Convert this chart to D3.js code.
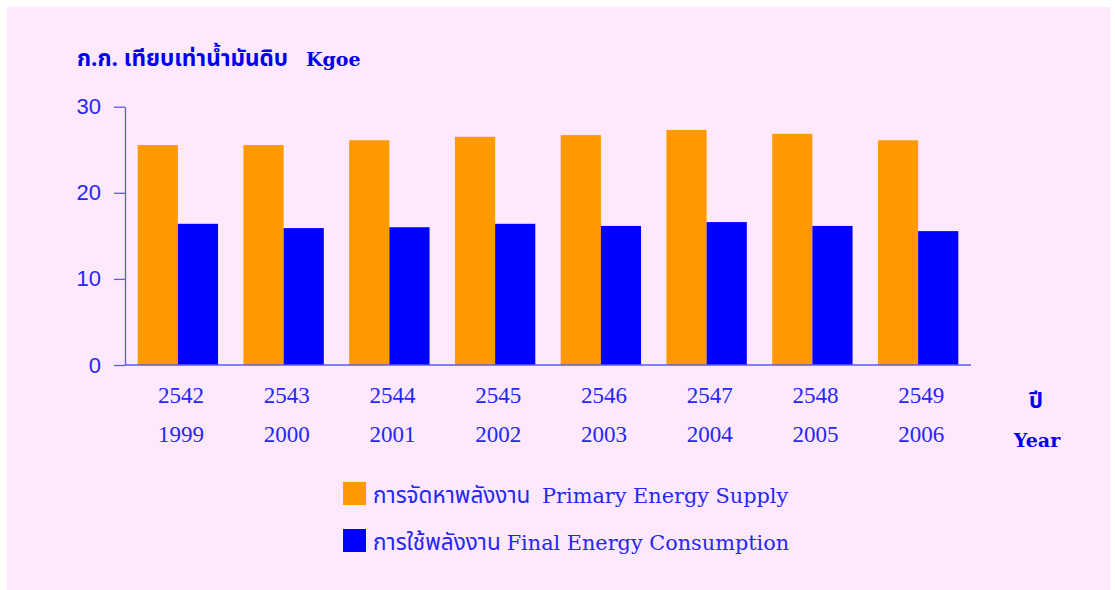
<!DOCTYPE html>
<html>
<head>
<meta charset="utf-8">
<script src="https://cdn.jsdelivr.net/npm/d3@7"></script>
<style>
  html, body { margin: 0; padding: 0; background: #ffffff; }
  svg { display: block; }
  text { white-space: pre; }
</style>
</head>
<body>
<svg id="chart" width="1115" height="590"></svg>
<script>
// data
var thaiYears = ['2542', '2543', '2544', '2545', '2546', '2547', '2548', '2549'];
var years = ['1999', '2000', '2001', '2002', '2003', '2004', '2005', '2006'];
var primarySupply = [25.55, 25.55, 26.1, 26.5, 26.7, 27.3, 26.85, 26.1];
var finalConsumption = [16.4, 15.9, 16.0, 16.4, 16.15, 16.6, 16.15, 15.55];
var yTicks = [0, 10, 20, 30];
var seriesThai = ['การจัดหาพลังงาน  ', 'การใช้พลังงาน '];
var seriesEnglish = ['Primary Energy Supply', 'Final Energy Consumption'];
var seriesColors = ['#ff9900', '#0000ff'];

var textBlue = '#2626f6';
var axisBlue = '#5b5bef';
var thaiFont = '"Noto Sans Thai", "Loma", "Garuda", "Norasi", "Noto Sans", sans-serif';
var serifFont = '"Liberation Serif", "DejaVu Serif", serif';
var slabFont = '"DejaVu Serif", serif';

var svg = d3.select('#chart');

// pink panel
svg.append('rect')
    .attr('x', 7).attr('y', 7)
    .attr('width', 1103).attr('height', 583)
    .attr('fill', '#fde8fd');

var x = d3.scaleBand()
    .domain(thaiYears)
    .range([125, 971])
    .paddingInner(0.24)
    .paddingOuter(0.12);

var xSub = d3.scaleBand()
    .domain([0, 1])
    .range([0, x.bandwidth()]);

var y = d3.scaleLinear()
    .domain([0, 30])
    .range([365, 106.7]);

// y axis
var yAxis = svg.append('g')
    .attr('transform', 'translate(125,0)')
    .call(d3.axisLeft(y).tickValues(yTicks).tickSize(11).tickSizeOuter(0).tickPadding(13));
yAxis.select('.domain').attr('stroke', axisBlue).attr('stroke-width', 1.3);
yAxis.selectAll('.tick line').attr('stroke', axisBlue).attr('stroke-width', 1.3);
yAxis.selectAll('.tick text')
    .attr('fill', textBlue)
    .style('font-family', '"Liberation Sans", sans-serif')
    .style('font-size', '22px');

// bars
var groups = svg.append('g').selectAll('g')
    .data(thaiYears)
    .enter().append('g')
    .attr('transform', function (d) { return 'translate(' + x(d) + ',0)'; });

groups.selectAll('rect')
    .data(function (d, i) { return [primarySupply[i], finalConsumption[i]]; })
    .enter().append('rect')
    .attr('x', function (d, j) { return xSub(j); })
    .attr('y', function (d) { return y(d); })
    .attr('width', xSub.bandwidth())
    .attr('height', function (d) { return y(0) - y(d); })
    .attr('fill', function (d, j) { return seriesColors[j]; });

// baseline
svg.append('line')
    .attr('x1', 125).attr('x2', 971)
    .attr('y1', y(0)).attr('y2', y(0))
    .attr('stroke', axisBlue).attr('stroke-width', 1.3);

// category labels (two rows)
var labels = svg.append('g');
labels.selectAll('text.th')
    .data(thaiYears)
    .enter().append('text')
    .attr('class', 'th')
    .attr('x', function (d) { return x(d) + x.bandwidth() / 2 + 3; })
    .attr('y', 403)
    .attr('text-anchor', 'middle')
    .attr('fill', textBlue)
    .style('font-family', serifFont)
    .style('font-size', '23px')
    .text(function (d) { return d; });

labels.selectAll('text.en')
    .data(years)
    .enter().append('text')
    .attr('class', 'en')
    .attr('x', function (d, i) { return x(thaiYears[i]) + x.bandwidth() / 2 + 3; })
    .attr('y', 442)
    .attr('text-anchor', 'middle')
    .attr('fill', textBlue)
    .style('font-family', serifFont)
    .style('font-size', '23px')
    .text(function (d) { return d; });

// axis titles
var title = svg.append('text')
    .attr('x', 77).attr('y', 66)
    .attr('fill', '#0000ee')
    .style('font-weight', 'bold');
title.append('tspan').style('font-family', thaiFont).style('font-size', '22.5px').text('ก.ก. เทียบเท่าน้ำมันดิบ');
title.append('tspan').attr('dx', 18).style('font-family', slabFont).style('font-size', '19px').text('Kgoe');

svg.append('text')
    .attr('x', 1036).attr('y', 408)
    .attr('text-anchor', 'middle')
    .attr('fill', '#0000ee')
    .style('font-family', thaiFont)
    .style('font-weight', 'bold')
    .style('font-size', '22px')
    .text('ปี');

svg.append('text')
    .attr('x', 1037).attr('y', 447)
    .attr('text-anchor', 'middle')
    .attr('fill', '#0000ee')
    .style('font-family', slabFont)
    .style('font-weight', 'bold')
    .style('font-size', '19px')
    .text('Year');

// legend
var legend = svg.append('g').selectAll('g')
    .data(seriesThai)
    .enter().append('g')
    .attr('transform', function (d, i) { return 'translate(343,' + (482 + i * 47) + ')'; });

legend.append('rect')
    .attr('width', 23).attr('height', 23)
    .attr('fill', function (d, i) { return seriesColors[i]; });

var legendText = legend.append('text')
    .attr('x', 30).attr('y', 21)
    .attr('fill', textBlue);
legendText.append('tspan')
    .style('font-family', thaiFont)
    .style('font-size', '22.5px')
    .text(function (d) { return d; });
legendText.append('tspan')
    .style('font-family', slabFont)
    .style('font-size', '20.8px')
    .text(function (d, i) { return seriesEnglish[i]; });
</script>
</body>
</html>
